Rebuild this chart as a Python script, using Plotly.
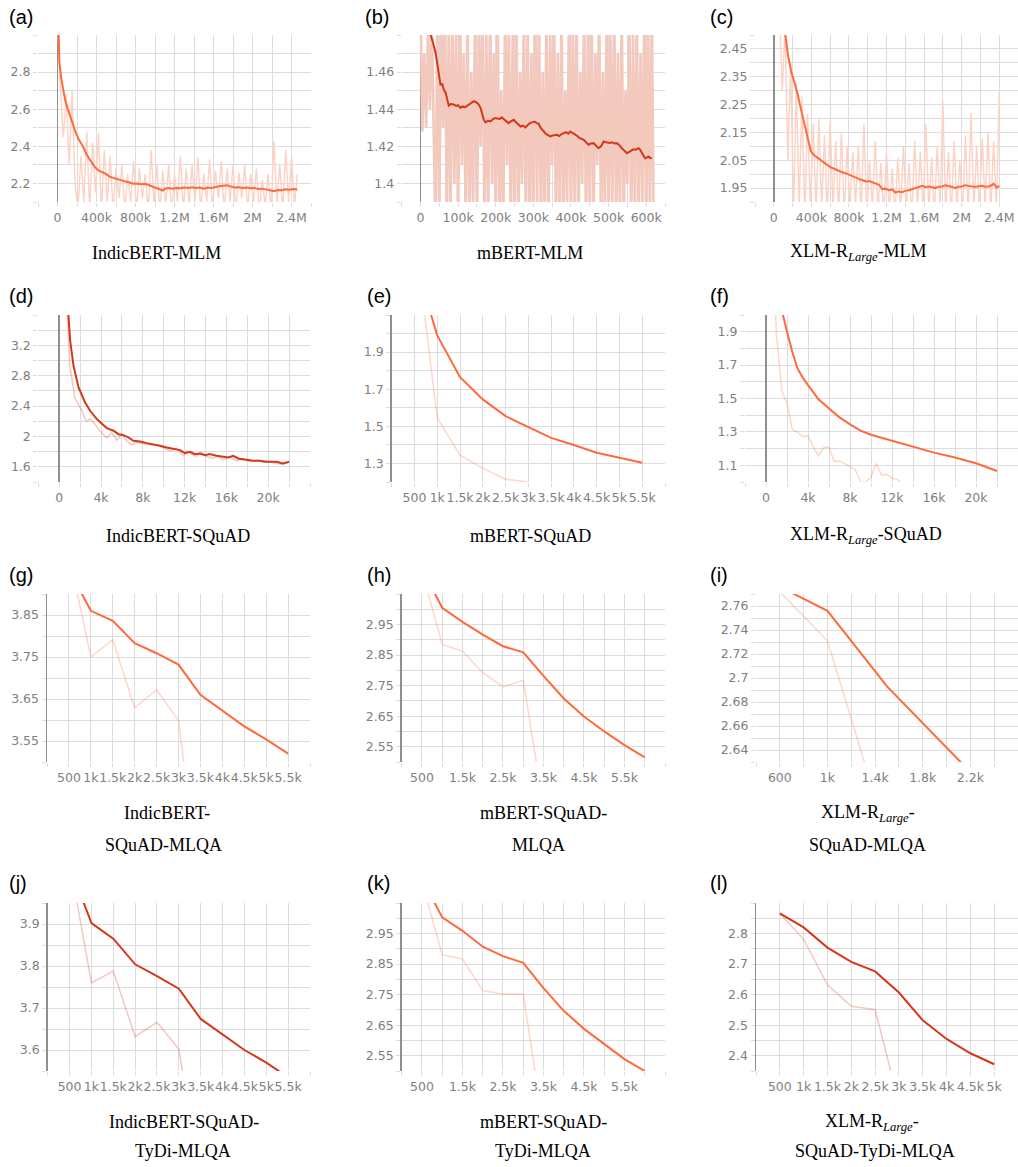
import plotly.graph_objects as go

W, H = 1018, 1167

# ======================= DATA =======================
# (a) IndicBERT-MLM
a_smooth_steps = [0, 20e3, 40e3, 60e3, 80e3, 100e3, 130e3, 160e3, 190e3, 220e3, 260e3, 300e3, 340e3, 380e3,
                  420e3, 460e3, 500e3, 540e3, 580e3, 620e3, 660e3, 700e3, 740e3, 780e3, 820e3, 860e3, 900e3,
                  940e3, 980e3, 1.02e6, 1.06e6, 1.08e6, 1.10e6, 1.14e6, 1.18e6, 1.22e6, 1.26e6, 1.30e6, 1.34e6,
                  1.38e6, 1.42e6, 1.46e6, 1.50e6, 1.54e6, 1.58e6, 1.62e6, 1.66e6, 1.70e6, 1.74e6, 1.78e6, 1.82e6,
                  1.86e6, 1.90e6, 1.94e6, 1.98e6, 2.02e6, 2.06e6, 2.10e6, 2.14e6, 2.18e6, 2.22e6, 2.26e6, 2.30e6,
                  2.34e6, 2.38e6, 2.42e6, 2.46e6]
a_smooth = [3.20, 2.85, 2.76, 2.70, 2.645, 2.61, 2.56, 2.52, 2.47, 2.435, 2.40, 2.355, 2.32, 2.29,
            2.27, 2.262, 2.25, 2.235, 2.228, 2.222, 2.215, 2.21, 2.205, 2.198, 2.20, 2.196, 2.198,
            2.19, 2.185, 2.178, 2.168, 2.162, 2.172, 2.175, 2.172, 2.176, 2.174, 2.178, 2.176,
            2.18, 2.175, 2.178, 2.172, 2.178, 2.176, 2.182, 2.185, 2.188, 2.19, 2.183, 2.178,
            2.18, 2.176, 2.178, 2.174, 2.176, 2.17, 2.172, 2.168, 2.163, 2.158, 2.165, 2.163,
            2.168, 2.166, 2.17, 2.168]
a_raw_first, a_raw_every = 0, 30e3
a_raw = [3.10, 2.70, 2.45, 2.68, 2.30, 2.70, 2.20, 2.05, 2.35, 2.10,
         2.48, 2.05, 2.42, 2.15, 2.47, 2.05, 2.38, 2.10, 2.35, 2.05,
         2.28, 2.12, 2.30, 2.05, 2.25, 2.10, 2.32, 2.05, 2.28, 2.12,
         2.25, 2.05, 2.38, 2.08, 2.30, 2.05, 2.27, 2.08, 2.30, 2.05,
         2.25, 2.10, 2.35, 2.05, 2.28, 2.08, 2.30, 2.10, 2.34, 2.05,
         2.25, 2.10, 2.33, 2.06, 2.27, 2.12, 2.32, 2.05, 2.28, 2.10,
         2.30, 2.05, 2.26, 2.12, 2.30, 2.06, 2.25, 2.10, 2.28, 2.05,
         2.22, 2.08, 2.25, 2.05, 2.43, 2.08, 2.30, 2.05, 2.38, 2.10,
         2.35, 2.08, 2.25]

# (b) mBERT-MLM
b_smooth_steps = [20e3, 26.5e3, 33e3, 40e3, 45e3, 49e3, 53e3, 58e3, 62e3, 67e3, 71e3, 75e3, 80e3, 88e3, 95e3,
                  100e3, 106e3, 112e3, 118e3, 124e3, 130e3, 136e3, 142e3, 148e3, 155e3, 160e3, 164e3, 168e3,
                  173e3, 180e3, 186e3, 192e3, 198e3, 204e3, 210e3, 216e3, 221e3, 228e3, 234e3, 241e3, 248e3,
                  254e3, 260e3, 266e3, 272e3, 279e3, 285e3, 291e3, 297e3, 303e3, 309e3, 314e3, 320e3, 327e3,
                  333e3, 339e3, 345e3, 351e3, 357e3, 363e3, 369e3, 375e3, 381e3, 387e3, 393e3, 398e3, 404e3,
                  410e3, 416e3, 422e3, 428e3, 434e3, 440e3, 447e3, 453e3, 460e3, 466e3, 473e3, 480e3, 487e3,
                  493e3, 499e3, 504e3, 510e3, 516e3, 522e3, 528e3, 535e3, 541e3, 549e3, 555e3, 561e3, 566e3,
                  572e3, 580e3, 585e3, 589e3, 594e3, 597e3, 602e3, 606e3, 610e3, 615e3]
b_smooth = [1.49, 1.4804, 1.476, 1.4705, 1.464, 1.4578, 1.4533, 1.4535, 1.4506, 1.4488, 1.4452, 1.4419, 1.4428,
            1.4425, 1.4418, 1.4422, 1.4407, 1.4415, 1.4410, 1.4419, 1.4425, 1.4432, 1.4443, 1.4438, 1.4425,
            1.4405, 1.4370, 1.4345, 1.4329, 1.4338, 1.4334, 1.4346, 1.4352, 1.4352, 1.4348, 1.4355, 1.4347,
            1.4338, 1.4325, 1.4336, 1.4343, 1.4330, 1.4318, 1.4307, 1.4312, 1.4302, 1.4315, 1.4325, 1.4329,
            1.4333, 1.4325, 1.4322, 1.4298, 1.4280, 1.4268, 1.4260, 1.4253, 1.4258, 1.4262, 1.4262, 1.4255,
            1.4266, 1.4271, 1.4276, 1.4268, 1.4280, 1.4272, 1.4265, 1.4257, 1.4246, 1.4240, 1.4235, 1.4222,
            1.4208, 1.4215, 1.4217, 1.4205, 1.4190, 1.4200, 1.4226, 1.4222, 1.4220, 1.4218, 1.4222, 1.4215,
            1.4217, 1.4208, 1.4190, 1.4178, 1.4163, 1.4170, 1.4180, 1.4184, 1.4182, 1.4190, 1.4178, 1.4163,
            1.4148, 1.4136, 1.4140, 1.4145, 1.4138, 1.4136]
b_raw_first, b_raw_every = 0, 5e3
b_raw = [1.50, 1.428, 1.47, 1.43, 1.485, 1.44, 1.49, 1.425, 1.37, 1.50,
         1.38, 1.49, 1.43, 1.50, 1.37, 1.49, 1.38, 1.50, 1.40, 1.48,
         1.37, 1.50, 1.41, 1.47, 1.38, 1.50, 1.37, 1.46, 1.39, 1.50,
         1.37, 1.49, 1.42, 1.50, 1.37, 1.48, 1.38, 1.50, 1.40, 1.47,
         1.37, 1.50, 1.38, 1.45, 1.37, 1.50, 1.41, 1.49, 1.37, 1.48,
         1.38, 1.50, 1.37, 1.46, 1.40, 1.50, 1.37, 1.49, 1.38, 1.47,
         1.37, 1.50, 1.39, 1.50, 1.37, 1.46, 1.38, 1.50, 1.37, 1.48,
         1.41, 1.50, 1.37, 1.47, 1.38, 1.50, 1.37, 1.45, 1.39, 1.50,
         1.37, 1.49, 1.38, 1.50, 1.37, 1.46, 1.40, 1.50, 1.37, 1.48,
         1.38, 1.50, 1.37, 1.47, 1.41, 1.50, 1.37, 1.46, 1.38, 1.50,
         1.37, 1.48, 1.39, 1.50, 1.37, 1.47, 1.38, 1.50, 1.37, 1.45,
         1.40, 1.50, 1.37, 1.48, 1.38, 1.50, 1.37, 1.47, 1.39, 1.50,
         1.37, 1.49, 1.38, 1.50, 1.37]

# (c) XLM-R Large-MLM
c_smooth_steps = [100e3, 125e3, 150e3, 185e3, 220e3, 255e3, 290e3, 325e3, 360e3, 395e3, 430e3, 485e3, 520e3,
                  555e3, 590e3, 625e3, 660e3, 700e3, 735e3, 770e3, 805e3, 840e3, 875e3, 910e3, 945e3, 980e3,
                  1.015e6, 1.05e6, 1.085e6, 1.12e6, 1.155e6, 1.19e6, 1.226e6, 1.26e6, 1.297e6, 1.33e6, 1.367e6,
                  1.40e6, 1.438e6, 1.47e6, 1.509e6, 1.545e6, 1.58e6, 1.615e6, 1.65e6, 1.685e6, 1.72e6, 1.755e6,
                  1.79e6, 1.825e6, 1.862e6, 1.90e6, 1.933e6, 1.965e6, 2.0e6, 2.04e6, 2.074e6, 2.11e6, 2.145e6,
                  2.18e6, 2.216e6, 2.25e6, 2.286e6, 2.32e6, 2.34e6, 2.375e6, 2.40e6]
c_smooth = [2.56, 2.49, 2.43, 2.37, 2.328, 2.286, 2.232, 2.178, 2.136, 2.082, 2.068, 2.054, 2.045,
            2.034, 2.028, 2.022, 2.016, 2.010, 2.006, 2.003, 1.997, 1.992, 1.988, 1.982, 1.978, 1.974,
            1.975, 1.970, 1.966, 1.962, 1.946, 1.948, 1.942, 1.945, 1.934, 1.938, 1.935,
            1.940, 1.942, 1.946, 1.950, 1.955, 1.958, 1.954, 1.956, 1.953, 1.950, 1.955,
            1.956, 1.960, 1.958, 1.954, 1.950, 1.955, 1.956, 1.960, 1.958, 1.955, 1.954,
            1.957, 1.958, 1.955, 1.956, 1.960, 1.966, 1.952, 1.958]
c_raw_first, c_raw_every = 60e3, 30e3
c_raw = [2.60, 2.30, 2.52, 2.05, 2.40, 1.85, 2.33, 1.88, 2.28, 1.85,
         2.22, 1.87, 2.18, 1.86, 2.20, 1.88, 2.14, 1.85, 2.19, 1.88,
         2.12, 1.86, 2.15, 1.85, 2.10, 1.87, 2.08, 1.89, 2.10, 1.86,
         2.18, 1.85, 2.05, 1.88, 2.12, 1.86, 2.04, 1.85, 2.08, 1.87,
         2.02, 1.85, 2.06, 1.86, 2.10, 1.87, 2.04, 1.85, 2.12, 1.88,
         2.08, 1.86, 2.18, 1.87, 2.06, 1.85, 2.10, 1.88, 2.26, 1.86,
         2.08, 1.85, 2.12, 1.87, 2.05, 1.86, 2.14, 1.85, 2.22, 1.87,
         2.10, 1.86, 2.13, 1.88, 2.15, 1.85, 2.12, 1.87, 2.30]

# (d) IndicBERT-SQuAD
d_smooth_steps = [500, 1050, 1370, 1850, 2480, 2960, 3600, 4240, 4550, 5200, 5670, 6150, 6620, 7100, 7740,
                  8370, 9000, 9650, 10290, 10900, 11560, 12040, 12500, 13000, 13470, 13950, 14400, 15060,
                  15700, 16180, 16650, 17130, 17930, 18570, 19200, 19840, 20800, 21400, 21750, 22000]
d_smooth = [4.40, 3.26, 2.93, 2.646, 2.448, 2.338, 2.229, 2.14, 2.11, 2.075, 2.03, 2.018, 1.987, 1.943, 1.934,
            1.912, 1.899, 1.877, 1.855, 1.842, 1.82, 1.78, 1.798, 1.767, 1.776, 1.754, 1.767, 1.745,
            1.736, 1.723, 1.745, 1.71, 1.692, 1.679, 1.679, 1.666, 1.666, 1.644, 1.657, 1.666]
d_raw_steps = [500, 1000, 1500, 2170, 2580, 2960, 3440, 3900, 4550, 5030, 5500, 5990, 6460, 6940, 7420, 8050,
               8700, 9330, 9970, 10600, 11240, 11880, 12200, 12670, 13150, 13600, 14100, 14740, 15200, 15700,
               16300, 16970, 17600, 18250, 18900, 19500, 20160, 20800, 21400, 21900]
d_raw = [4.40, 2.95, 2.51, 2.34, 2.198, 2.23, 2.16, 2.07, 1.98, 2.05, 1.95, 2.03, 1.943, 1.89, 1.92, 1.908,
         1.886, 1.89, 1.855, 1.81, 1.846, 1.745, 1.81, 1.767, 1.736, 1.789, 1.736, 1.714, 1.745, 1.692,
         1.736, 1.679, 1.701, 1.666, 1.688, 1.657, 1.666, 1.644, 1.635, 1.657]

# (e) mBERT-SQuAD
e_smooth_steps = [500, 1000, 1500, 2000, 2500, 3000, 3500, 4000, 4500, 5000, 5500]
e_smooth = [2.40, 1.99, 1.765, 1.645, 1.555, 1.496, 1.438, 1.399, 1.358, 1.331, 1.304]
e_raw_steps = [500, 1000, 1500, 2000, 2500, 3000]
e_raw = [2.55, 1.545, 1.345, 1.275, 1.215, 1.20]

# (f) XLM-R Large-SQuAD
f_smooth_steps = [1000, 1500, 2000, 2500, 3000, 3500, 4000, 5000, 6000, 7000, 8000, 9000, 10000, 12000,
                  14000, 16000, 18000, 20000, 22000]
f_smooth = [2.20, 2.03, 1.90, 1.78, 1.68, 1.625, 1.58, 1.495, 1.44, 1.387, 1.345, 1.308, 1.283, 1.248,
            1.211, 1.176, 1.147, 1.112, 1.066]
f_raw_steps = [500, 1000, 1500, 2000, 2500, 3000, 3500, 4000, 4500, 5000, 5500, 6000, 6500, 7000, 7500,
               8000, 8500, 9000, 9500, 10000, 10500, 11000, 11500, 12000, 12500, 13000]
f_raw = [2.60, 1.88, 1.55, 1.47, 1.315, 1.297, 1.273, 1.277, 1.21, 1.156, 1.207, 1.21, 1.122, 1.126, 1.11,
         1.09, 1.075, 1.0, 0.998, 1.03, 1.11, 1.042, 1.046, 1.022, 1.016, 0.99]

# (g) IndicBERT-SQuAD-MLQA
g_smooth_steps = [500, 1000, 1500, 2000, 2500, 3000, 3500, 4000, 4500, 5000, 5500]
g_smooth = [3.958, 3.86, 3.836, 3.783, 3.759, 3.732, 3.66, 3.623, 3.585, 3.554, 3.52]
g_raw_steps = [500, 1000, 1500, 2000, 2500, 3000, 3500]
g_raw = [3.995, 3.75, 3.791, 3.629, 3.672, 3.599, 3.19]

# (h) mBERT-SQuAD-MLQA
h_smooth_steps = [500, 1000, 1500, 2000, 2500, 3000, 3500, 4000, 4500, 5000, 5500, 6000]
h_smooth = [3.131, 3.005, 2.959, 2.917, 2.879, 2.859, 2.782, 2.708, 2.649, 2.600, 2.555, 2.515]
h_raw_steps = [500, 1000, 1500, 2000, 2500, 3000, 3500]
h_raw = [3.126, 2.885, 2.863, 2.793, 2.746, 2.768, 2.354]

# (i) XLM-R Large-SQuAD-MLQA
i_smooth_steps = [500, 1000, 1500, 2000, 2500]
i_smooth = [2.781, 2.756, 2.693, 2.641, 2.591]
i_raw_steps = [500, 1000, 1500]
i_raw = [2.782, 2.731, 2.568]

# (j) IndicBERT-SQuAD-TyDi-MLQA
j_smooth_steps = [500, 1000, 1500, 2000, 2500, 3000, 3500, 4000, 4500, 5000, 5500]
j_smooth = [4.04, 3.902, 3.865, 3.804, 3.776, 3.746, 3.674, 3.638, 3.600, 3.570, 3.535]
j_raw_steps = [500, 1000, 1500, 2000, 2500, 3000, 3500]
j_raw = [4.05, 3.76, 3.788, 3.632, 3.666, 3.602, 3.277]

# (k) mBERT-SQuAD-TyDi-MLQA
k_smooth_steps = [500, 1000, 1500, 2000, 2500, 3000, 3500, 4000, 4500, 5000, 5500, 6000]
k_smooth = [3.13, 3.003, 2.959, 2.907, 2.876, 2.854, 2.771, 2.697, 2.638, 2.589, 2.539, 2.50]
k_raw_steps = [500, 1000, 1500, 2000, 2500, 3000, 3500]
k_raw = [3.12, 2.881, 2.867, 2.763, 2.752, 2.752, 2.317]

# (l) XLM-R Large-SQuAD-TyDi-MLQA
l_smooth_steps = [500, 1000, 1500, 2000, 2500, 3000, 3500, 4000, 4500, 5000]
l_smooth = [2.866, 2.82, 2.754, 2.707, 2.676, 2.607, 2.516, 2.455, 2.408, 2.372]
l_raw_steps = [500, 1000, 1500, 2000, 2500, 3000]
l_raw = [2.866, 2.781, 2.632, 2.562, 2.551, 2.246]

# ---- tick labels ----
mlm_xticks = [0, 4e5, 8e5, 1.2e6, 1.6e6, 2e6, 2.4e6]
mlm_xtext = ["0", "400k", "800k", "1.2M", "1.6M", "2M", "2.4M"]
b_xticks = [0, 1e5, 2e5, 3e5, 4e5, 5e5, 6e5]
b_xtext = ["0", "100k", "200k", "300k", "400k", "500k", "600k"]
squad_xticks = [0, 4e3, 8e3, 12e3, 16e3, 20e3]
squad_xtext = ["0", "4k", "8k", "12k", "16k", "20k"]
half_xticks = [500, 1000, 1500, 2000, 2500, 3000, 3500, 4000, 4500, 5000, 5500]
half_xtext = ["500", "1k", "1.5k", "2k", "2.5k", "3k", "3.5k", "4k", "4.5k", "5k", "5.5k"]
odd_xticks = [500, 1500, 2500, 3500, 4500, 5500]
odd_xtext = ["500", "1.5k", "2.5k", "3.5k", "4.5k", "5.5k"]
i_xticks = [600, 1000, 1400, 1800, 2200]
i_xtext = ["600", "1k", "1.4k", "1.8k", "2.2k"]
l_xticks = [500, 1000, 1500, 2000, 2500, 3000, 3500, 4000, 4500, 5000]
l_xtext = ["500", "1k", "1.5k", "2k", "2.5k", "3k", "3.5k", "4k", "4.5k", "5k"]

a_yticks = [2.2, 2.4, 2.6, 2.8]
b_yticks = [1.40, 1.42, 1.44, 1.46]
c_yticks = [1.95, 2.05, 2.15, 2.25, 2.35, 2.45]
d_yticks = [1.6, 2.0, 2.4, 2.8, 3.2]
e_yticks = [1.3, 1.5, 1.7, 1.9]
f_yticks = [1.1, 1.3, 1.5, 1.7, 1.9]
g_yticks = [3.55, 3.65, 3.75, 3.85]
h_yticks = [2.55, 2.65, 2.75, 2.85, 2.95]
i_yticks = [2.64, 2.66, 2.68, 2.70, 2.72, 2.74, 2.76]
j_yticks = [3.6, 3.7, 3.8, 3.9]
k_yticks = [2.55, 2.65, 2.75, 2.85, 2.95]
l_yticks = [2.4, 2.5, 2.6, 2.7, 2.8]

panel_letters = ["(a)", "(b)", "(c)", "(d)", "(e)", "(f)", "(g)", "(h)", "(i)", "(j)", "(k)", "(l)"]
LG = "<sub><i>Large</i></sub>"
captions = [
    ["IndicBERT-MLM"], ["mBERT-MLM"], ["XLM-R" + LG + "-MLM"],
    ["IndicBERT-SQuAD"], ["mBERT-SQuAD"], ["XLM-R" + LG + "-SQuAD"],
    ["IndicBERT-", "SQuAD-MLQA"], ["mBERT-SQuAD-", "MLQA"], ["XLM-R" + LG + "-", "SQuAD-MLQA"],
    ["IndicBERT-SQuAD-", "TyDi-MLQA"], ["mBERT-SQuAD-", "TyDi-MLQA"], ["XLM-R" + LG + "-", "SQuAD-TyDi-MLQA"],
]


def regular(first, every, vals):
    return [first + n * every for n in range(len(vals))]


# ======================= STYLE / LAYOUT =======================
ORANGE, ORANGE_RAW = "#ff6a3d", "rgba(255,106,61,0.28)"
ORANGE_BAND = "#fdd2c4"
RED, RED_RAW = "#d4381b", "rgba(212,56,27,0.28)"
RED_BAND = "#f3c8bd"
GRID = "#dddddd"
AXIS_DARK = "#8f8f8f"
TICKFONT = dict(family="DejaVu Sans", size=12.5, color="#808080")

panels = [
    dict(sx=a_smooth_steps, sy=a_smooth, rx=regular(a_raw_first, a_raw_every, a_raw), ry=a_raw,
         col=ORANGE, rcol=ORANGE_BAND, rw=1.4, box=(38, 311, 35, 202), xr=[-2e5, 2.6e6], yr=[2.1, 3.0],
         xt=mlm_xticks, xtt=mlm_xtext, yt=a_yticks, xm=(0, 2e5), ym=(2.1, 0.1)),
    dict(sx=b_smooth_steps, sy=b_smooth, rx=regular(b_raw_first, b_raw_every, b_raw), ry=b_raw,
         col=RED, rcol=RED_BAND, rw=2.6, box=(401.7, 665, 35, 202), xr=[-5e4, 6.5e5], yr=[1.39, 1.48],
         xt=b_xticks, xtt=b_xtext, yt=b_yticks, xm=(0, 5e4), ym=(1.39, 0.01)),
    dict(sx=c_smooth_steps, sy=c_smooth, rx=regular(c_raw_first, c_raw_every, c_raw), ry=c_raw,
         col=ORANGE, rcol=ORANGE_BAND, rw=1.4, box=(755, 1018, 35, 202), xr=[-2e5, 2.6e6], yr=[1.9, 2.5],
         xt=mlm_xticks, xtt=mlm_xtext, yt=c_yticks, xm=(0, 2e5), ym=(1.9, 0.05)),
    dict(sx=d_smooth_steps, sy=d_smooth, rx=d_raw_steps, ry=d_raw,
         col=RED, rcol=RED_RAW, rw=1.5, box=(38.3, 310, 315, 482), xr=[-2e3, 24e3], yr=[1.4, 3.6],
         xt=squad_xticks, xtt=squad_xtext, yt=d_yticks, xm=(0, 2e3), ym=(1.4, 0.2)),
    dict(sx=e_smooth_steps, sy=e_smooth, rx=e_raw_steps, ry=e_raw,
         col=ORANGE, rcol=ORANGE_RAW, rw=1.5, box=(391.7, 665, 315, 482), xr=[0, 6000], yr=[1.2, 2.1],
         xt=half_xticks, xtt=half_xtext, yt=e_yticks, xm=(0, 500), ym=(1.2, 0.1)),
    dict(sx=f_smooth_steps, sy=f_smooth, rx=f_raw_steps, ry=f_raw,
         col=ORANGE, rcol=ORANGE_RAW, rw=1.5, box=(745, 1018, 315, 482), xr=[-2e3, 24e3], yr=[1.0, 2.0],
         xt=squad_xticks, xtt=squad_xtext, yt=f_yticks, xm=(0, 2e3), ym=(1.0, 0.1)),
    dict(sx=g_smooth_steps, sy=g_smooth, rx=g_raw_steps, ry=g_raw,
         col=ORANGE, rcol=ORANGE_RAW, rw=1.5, box=(47, 310, 594, 762), xr=[0, 6000], yr=[3.5, 3.9],
         xt=half_xticks, xtt=half_xtext, yt=g_yticks, xm=(0, 500), ym=(3.5, 0.05)),
    dict(sx=h_smooth_steps, sy=h_smooth, rx=h_raw_steps, ry=h_raw,
         col=ORANGE, rcol=ORANGE_RAW, rw=1.5, box=(401.7, 665, 594, 762), xr=[0, 6500], yr=[2.5, 3.05],
         xt=odd_xticks, xtt=odd_xtext, yt=h_yticks, xm=(0, 500), ym=(2.5, 0.05)),
    dict(sx=i_smooth_steps, sy=i_smooth, rx=i_raw_steps, ry=i_raw,
         col=ORANGE, rcol=ORANGE_RAW, rw=1.5, box=(756, 1018, 594, 762), xr=[400, 2600], yr=[2.63, 2.77],
         xt=i_xticks, xtt=i_xtext, yt=i_yticks, xm=(400, 200), ym=(2.63, 0.01)),
    dict(sx=j_smooth_steps, sy=j_smooth, rx=j_raw_steps, ry=j_raw,
         col=RED, rcol=RED_RAW, rw=1.5, box=(47.7, 310, 903, 1071), xr=[0, 6000], yr=[3.55, 3.95],
         xt=half_xticks, xtt=half_xtext, yt=j_yticks, xm=(0, 500), ym=(3.55, 0.05)),
    dict(sx=k_smooth_steps, sy=k_smooth, rx=k_raw_steps, ry=k_raw,
         col=ORANGE, rcol=ORANGE_RAW, rw=1.5, box=(401.7, 665, 903, 1071), xr=[0, 6500], yr=[2.5, 3.05],
         xt=odd_xticks, xtt=odd_xtext, yt=k_yticks, xm=(0, 500), ym=(2.5, 0.05)),
    dict(sx=l_smooth_steps, sy=l_smooth, rx=l_raw_steps, ry=l_raw,
         col=RED, rcol=RED_RAW, rw=1.5, box=(756, 1018, 903, 1071), xr=[0, 5500], yr=[2.35, 2.9],
         xt=l_xticks, xtt=l_xtext, yt=l_yticks, xm=(0, 500), ym=(2.35, 0.05)),
]

label_pos = [(7, 17), (363, 17), (708, 17), (7, 296), (365, 296), (708, 296),
             (7, 575), (365, 575), (708, 575), (7, 883), (365, 883), (708, 883)]
caption_pos = [
    [(156, 253)], [(530, 253)], [(858, 253)],
    [(178, 536)], [(530, 536)], [(866, 536)],
    [(167, 813)], [(543, 813)], [(868, 813)],
    [(184, 1122)], [(543, 1122)], [(872, 1122)],
]
caption_pos[6].append((163, 845)); caption_pos[7].append((538, 845)); caption_pos[8].append((867, 845))
caption_pos[9].append((183, 1151)); caption_pos[10].append((543, 1151)); caption_pos[11].append((875, 1151))

fig = go.Figure()
layout = dict(width=W, height=H, margin=dict(l=0, r=0, t=0, b=0), paper_bgcolor="white",
              plot_bgcolor="white", showlegend=False, autosize=False)
annotations = []

for n, p in enumerate(panels, start=1):
    sfx = "" if n == 1 else str(n)
    left, right, top, bottom = p["box"]
    fig.add_trace(go.Scatter(x=p["rx"], y=p["ry"], mode="lines", line=dict(color=p["rcol"], width=p["rw"]),
                             xaxis="x" + sfx, yaxis="y" + sfx, hoverinfo="skip"))
    fig.add_trace(go.Scatter(x=p["sx"], y=p["sy"], mode="lines", line=dict(color=p["col"], width=2),
                             xaxis="x" + sfx, yaxis="y" + sfx, hoverinfo="skip"))
    zero_inside = p["xr"][0] < 0
    zero_edge = p["xr"][0] == 0
    layout["xaxis" + sfx] = dict(
        domain=[left / W, right / W], range=p["xr"], anchor="y" + sfx,
        tickmode="array", tickvals=p["xt"], ticktext=p["xtt"], tickangle=0,
        showgrid=True, gridcolor=GRID, gridwidth=1, ticks="outside", ticklen=4, tickcolor=GRID,
        tickfont=TICKFONT, showline=False, zeroline=zero_inside, zerolinecolor=AXIS_DARK,
        zerolinewidth=1.5, automargin=False, fixedrange=True,
        minor=dict(tickmode="linear", tick0=p["xm"][0], dtick=p["xm"][1], showgrid=True,
                   gridcolor=GRID, gridwidth=1, ticks="outside", ticklen=4, tickcolor=GRID),
    )
    layout["yaxis" + sfx] = dict(
        domain=[1 - bottom / H, 1 - top / H], range=p["yr"], anchor="x" + sfx,
        tickmode="array", tickvals=p["yt"],
        showgrid=True, gridcolor=GRID, gridwidth=1, ticks="outside", ticklen=4, tickcolor=GRID,
        tickfont=TICKFONT, showline=zero_edge, linecolor=AXIS_DARK, linewidth=1.5,
        zeroline=False, automargin=False, fixedrange=True,
        minor=dict(tickmode="linear", tick0=p["ym"][0], dtick=p["ym"][1], showgrid=True,
                   gridcolor=GRID, gridwidth=1, ticks="outside", ticklen=4, tickcolor=GRID),
    )
    lx, ly = label_pos[n - 1]
    annotations.append(dict(text=panel_letters[n - 1], x=lx / W, y=1 - ly / H, xref="paper", yref="paper",
                            xanchor="left", yanchor="middle", showarrow=False,
                            font=dict(family="Liberation Sans", size=20, color="black")))
    for line_text, (cx, cy) in zip(captions[n - 1], caption_pos[n - 1]):
        annotations.append(dict(text=line_text, x=cx / W, y=1 - cy / H, xref="paper", yref="paper",
                                xanchor="center", yanchor="middle", showarrow=False,
                                font=dict(family="Liberation Serif", size=18, color="black")))

layout["annotations"] = annotations
fig.update_layout(**layout)
fig.write_html("out.html", config={"displayModeBar": False, "staticPlot": True},
               post_script="document.body.style.margin='0px';document.body.style.padding='0px';"
                           "document.body.style.overflow='hidden';")
